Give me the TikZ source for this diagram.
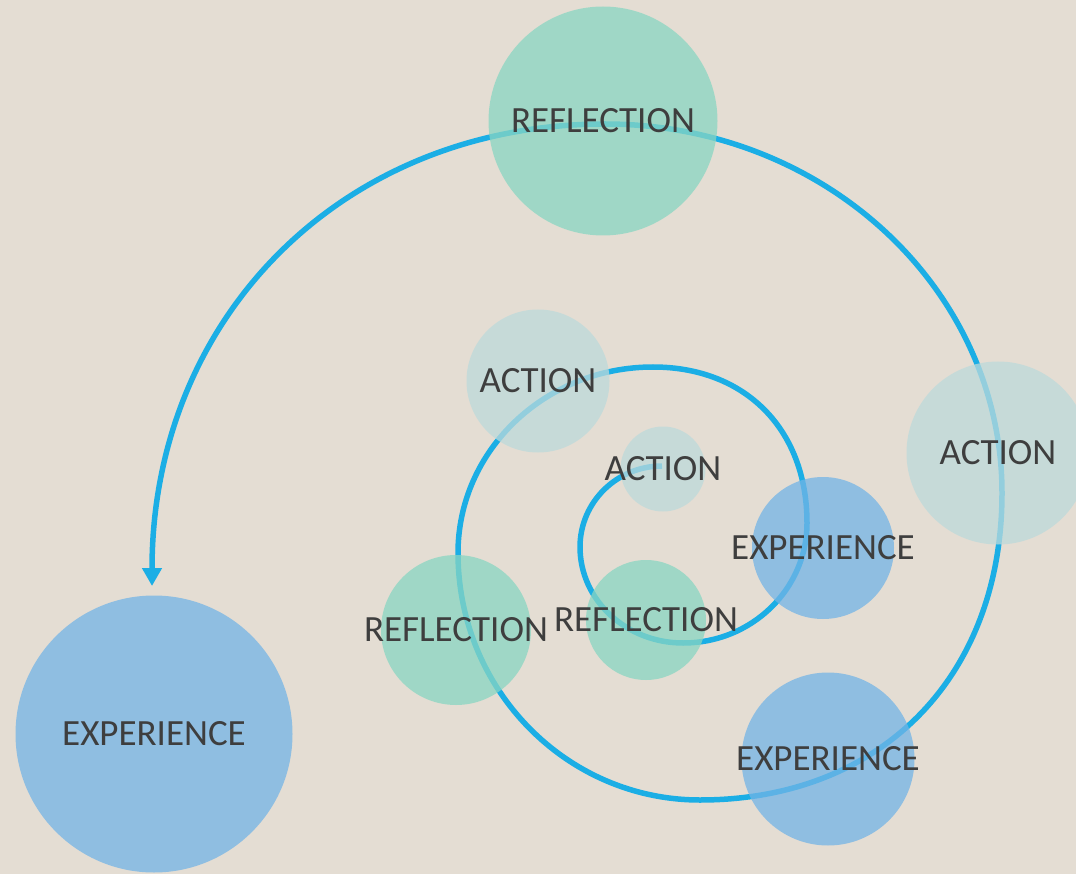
\documentclass[tikz,border=0pt]{standalone}
\usepackage{fontspec}
\setmainfont{Carlito}
\usetikzlibrary{arrows.meta}
\definecolor{bgc}{RGB}{228,221,211}
\definecolor{spiralc}{RGB}{27,174,229}
\definecolor{greenc}{RGB}{137,214,194}
\definecolor{bluec}{RGB}{115,180,230}
\definecolor{actionc}{RGB}{188,218,219}
\definecolor{txtc}{RGB}{62,62,62}
\tikzset{
  bubble/.style={circle, inner sep=0pt, outer sep=0pt, fill opacity=0.75},
  lbl/.style={text=txtc, text opacity=1, fill opacity=1, inner sep=0pt,
    font=\fontsize{37}{44}\selectfont},
  refl/.style={bubble, fill=greenc},
  expe/.style={bubble, fill=bluec},
  acti/.style={bubble, fill=actionc},
  spiralline/.style={draw=spiralc, line width=5.5pt,
    -{Triangle[length=18pt,width=19pt]}}
}
\begin{document}
\begin{tikzpicture}[x=1pt,y=-1pt]
\fill[bgc] (0,0) rectangle (1076,874);
\useasboundingbox (0,0) rectangle (1076,874);
\coordinate (sstart) at (662,466);
\coordinate (send) at (152,586);
\draw[spiralline] (sstart)
  .. controls (616.7,466) and (580,502.3) .. (580,547)
  .. controls (580,600) and (626.1,643) .. (683,643)
  .. controls (751.5,643) and (807,589.3) .. (807,523)
  .. controls (807,429.4) and (745.4,367) .. (653,367)
  .. controls (545.3,367) and (458,450.3) .. (458,553)
  .. controls (458,689.4) and (566.3,800) .. (700,800)
  .. controls (881,800) and (1002,677) .. (1002,493)
  .. controls (1002,289.2) and (824.3,124) .. (605,124)
  .. controls (342,124) and (152,318) .. (send);
\node[refl, minimum size=229pt, label={[lbl]center:REFLECTION}] (r1) at (603,121) {};
\node[acti, minimum size=183pt, label={[lbl]center:ACTION}] (a1) at (998,453) {};
\node[expe, minimum size=173pt, label={[lbl]center:EXPERIENCE}] (e1) at (828,759) {};
\node[expe, minimum size=277pt, label={[lbl]center:EXPERIENCE}] (e0) at (154,734) {};
\node[acti, minimum size=143pt, label={[lbl]center:ACTION}] (a2) at (538,381) {};
\node[refl, minimum size=150pt, label={[lbl]center:REFLECTION}] (r2) at (456,630) {};
\node[acti, minimum size=85pt, label={[lbl]center:ACTION}] (a3) at (663,469) {};
\node[expe, minimum size=142pt, label={[lbl]center:EXPERIENCE}] (e2) at (823,548) {};
\node[refl, minimum size=120pt, label={[lbl]center:REFLECTION}] (r3) at (646,620) {};
\end{tikzpicture}
\end{document}
